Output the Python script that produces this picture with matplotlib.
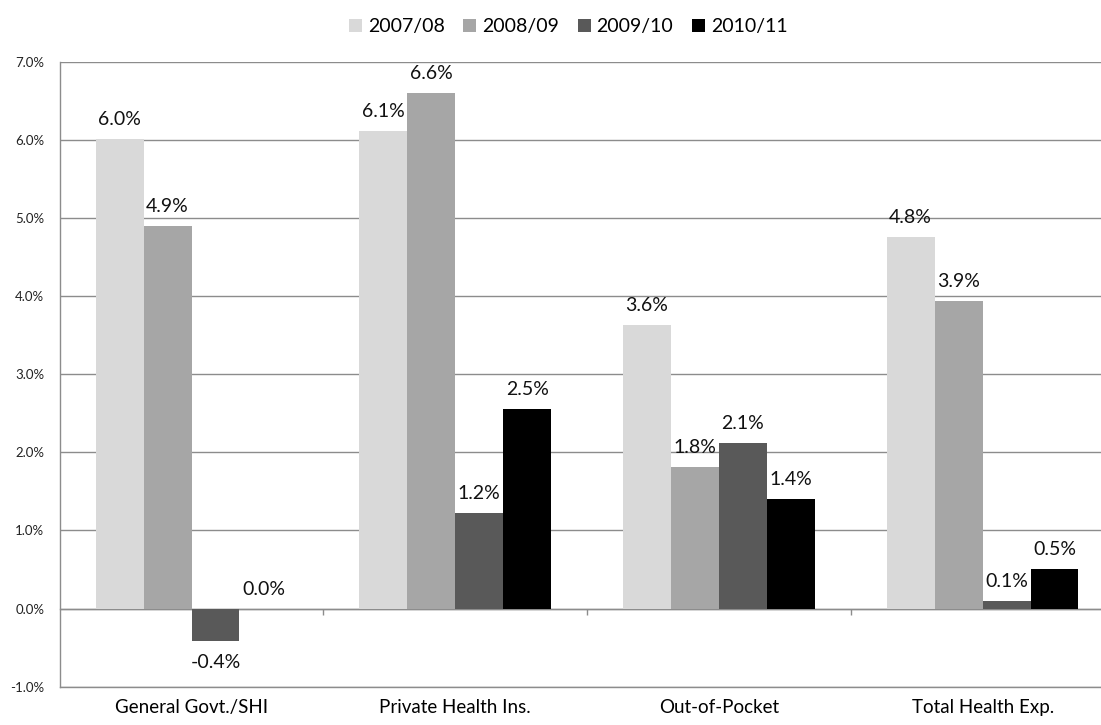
import matplotlib.pyplot as plt
import numpy as np

# Данные
categories = ["General Govt./SHI", "Private Health Ins.", "Out-of-Pocket", "Total Health Exp."]
series = ["2007/08", "2008/09", "2009/10", "2010/11"]
v_2007 = [6.01, 6.12, 3.63, 4.76]
v_2008 = [4.90, 6.60, 1.81, 3.94]
v_2009 = [-0.41, 1.22, 2.12, 0.10]
v_2010 = [0.00, 2.55, 1.40, 0.51]
values = [v_2007, v_2008, v_2009, v_2010]
colors = ["#d9d9d9", "#a6a6a6", "#595959", "#000000"]

plt.rcParams['font.family'] = ['Lato', 'DejaVu Sans']
grid_c = "#8c8c8c"

fig = plt.figure(figsize=(11.01, 7.25), dpi=100)
ax = fig.add_axes([0.0542, 0.0528, 0.958, 0.862])

x = np.arange(len(categories))
w = 1 / 5.5  # ширина столбца (зазор 150%)

for i, (name, vals, c) in enumerate(zip(series, values, colors)):
    pos = x + (i - 1.5) * w
    ax.bar(pos, vals, width=w, color=c, label=name, zorder=3)
    for px, v in zip(pos, vals):
        off = 14 if v >= 0 else -16
        ax.annotate(f"{v:.1f}%", (px, v), xytext=(0, off), textcoords="offset points",
                    ha="center", va="center", fontsize=14, color="#111111")

ax.set_xlim(-0.5, 3.5)
ax.set_ylim(-1, 7)
ax.set_yticks(np.arange(-1, 8, 1))
ax.set_yticklabels([f"{t:.1f}%" for t in np.arange(-1, 8, 1)])
ax.grid(axis="y", color=grid_c, lw=1, zorder=0)
ax.set_axisbelow(True)

ax.set_xticks(x)
ax.set_xticklabels(categories, fontsize=13.5)
ax.tick_params(axis="x", length=0, pad=9)
ax.tick_params(axis="y", length=0, pad=11, labelsize=9.5, labelcolor="#222222")

for s in ["top", "right"]:
    ax.spines[s].set_visible(False)
for s in ["left", "bottom"]:
    ax.spines[s].set_color(grid_c)
    ax.spines[s].set_linewidth(1)

# Ось X на нуле с засечками между категориями
sec = ax.secondary_xaxis(0.125)
sec.set_xticks(x[:-1] + 0.5)
sec.set_xticklabels([])
sec.tick_params(axis="x", length=4, width=1, color=grid_c)
sec.spines["bottom"].set_color(grid_c)
sec.spines["bottom"].set_linewidth(1)

fig.legend(loc="center", bbox_to_anchor=(0.516, 0.963), ncol=4, frameon=False,
           fontsize=14, handlelength=0.68, handleheight=0.68, handletextpad=0.3,
           columnspacing=0.95)

fig.savefig("out.png", dpi=100)
